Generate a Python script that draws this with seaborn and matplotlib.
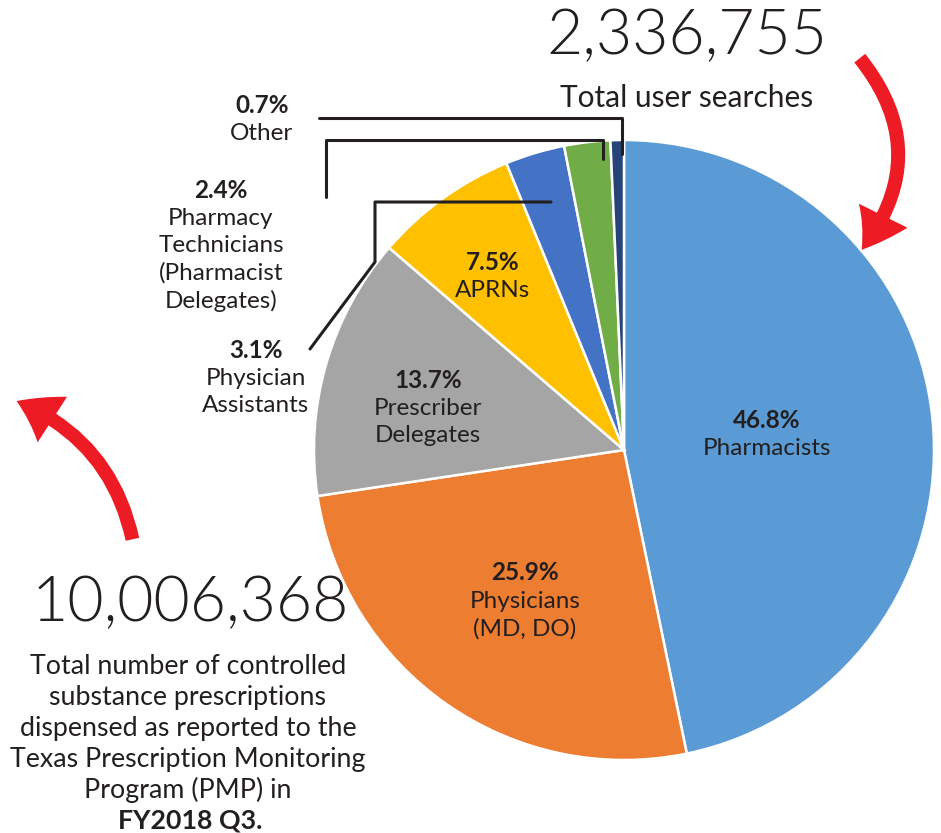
import matplotlib
matplotlib.use("Agg")
import matplotlib.pyplot as plt
import seaborn as sns

# --- data ---
categories = ["Pharmacists", "Physicians", "Prescriber Delegates", "APRNs",
              "Physician Assistants", "Pharmacy Technicians", "Other"]
shares = [46.8, 25.9, 13.7, 7.5, 3.1, 2.4, 0.7]
label_lines = [["Pharmacists"], ["Physicians", "(MD, DO)"], ["Prescriber", "Delegates"],
               ["APRNs"], ["Physician", "Assistants"],
               ["Pharmacy", "Technicians", "(Pharmacist", "Delegates)"], ["Other"]]
total_searches = "2,336,755"
total_rx = "10,006,368"
rx_note = ["Total number of controlled", "substance prescriptions",
           "dispensed as reported to the", "Texas Prescription Monitoring",
           "Program (PMP) in"]

palette = ["#5B9BD5", "#ED7D31", "#A5A5A5", "#FFC000", "#4472C4", "#70AD47", "#264478"]

sns.set_theme(style="white")
plt.rcParams["font.family"] = ["Lato", "DejaVu Sans"]

W, H = 941, 833
fig = plt.figure(figsize=(W / 100, H / 100), dpi=100)
ax = fig.add_axes([0, 0, 1, 1])

def Y(py):
    return H - py

cx, cy, R = 624, Y(450), 310
wedges, _ = ax.pie(shares, colors=palette, startangle=90, counterclock=False,
                   center=(cx, cy), radius=R,
                   wedgeprops=dict(edgecolor="white", linewidth=1.8))
ax.set_xlim(0, W)
ax.set_ylim(0, H)
ax.set_aspect("equal")
ax.axis("off")

txt = "#231F20"

# anchor (x, y of the percentage line) for every slice label
anchors = [(767, 420), (525, 573), (428, 380), (493, 262),
           (256, 350), (221, 190), (262, 105)]
for i, (x, py) in enumerate(anchors):
    ax.text(x, Y(py), f"{shares[i]}%", ha="center", va="center",
            fontsize=17.5, fontweight="bold", color=txt)
    for k, line in enumerate(label_lines[i]):
        ax.text(x, Y(py + 28 + 27.5 * k), line, ha="center", va="center",
                fontsize=17.5, color=txt)

# leader lines for the thin slices
lw = 2.2
ax.plot([310, 375, 375, 551], [Y(349), Y(262), Y(202), Y(202)], color=txt, lw=lw)
ax.plot([326, 326, 603, 603], [Y(197), Y(140), Y(140), Y(159)], color=txt, lw=lw)
ax.plot([319, 622, 622], [Y(118), Y(118), Y(154)], color=txt, lw=lw)

# headline numbers
ax.text(687, Y(37), total_searches, ha="center", va="center", fontsize=45,
        fontweight=300, color=txt)
ax.text(687, Y(98), "Total user searches", ha="center", va="center",
        fontsize=21.5, color=txt)

ax.text(190, Y(604), total_rx, ha="center", va="center", fontsize=45,
        fontweight=300, color=txt)
for k, line in enumerate(rx_note):
    ax.text(188, Y(667 + 30.8 * k), line, ha="center", va="center",
            fontsize=19.3, color=txt)
ax.text(190, Y(820), "FY2018 Q3.", ha="center", va="center", fontsize=19.3,
        fontweight="bold", color=txt)

# red curved arrows
red = "#ED1C24"
arrow = "simple,tail_width=1.0,head_width=3.9,head_length=2.9"
ax.annotate("", xy=(860, Y(252)), xytext=(858, Y(56)),
            arrowprops=dict(arrowstyle=arrow, mutation_scale=10, color=red,
                            connectionstyle="arc3,rad=-0.4", lw=0))
ax.annotate("", xy=(14, Y(400)), xytext=(133, Y(542)),
            arrowprops=dict(arrowstyle=arrow, mutation_scale=10, color=red,
                            connectionstyle="arc3,rad=0.27", lw=0))

fig.savefig("out.png", dpi=100, facecolor="white")
